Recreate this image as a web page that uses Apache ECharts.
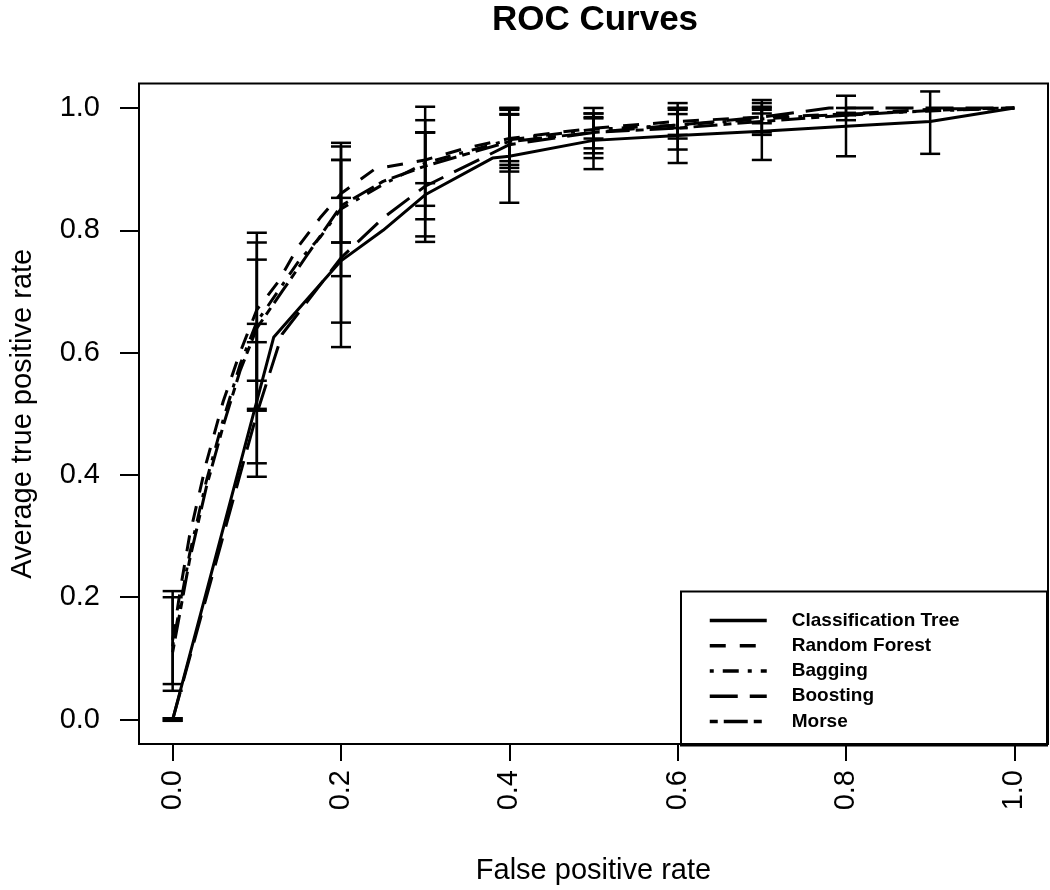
<!DOCTYPE html>
<html>
<head>
<meta charset="utf-8">
<script src="https://cdn.jsdelivr.net/npm/echarts@6/dist/echarts.min.js"></script>
<style>html,body{margin:0;padding:0;background:#fff}#c{width:1050px;height:890px}</style>
</head>
<body>
<div id="c"></div>
<script>
// ---- data ----
const seriesNames = ['Classification Tree', 'Random Forest', 'Bagging', 'Boosting', 'Morse'];
const xTicks = [0, 0.2, 0.4, 0.6, 0.8, 1.0];
const yTicks = [0, 0.2, 0.4, 0.6, 0.8, 1.0];

// curve points [fpr, tpr]
const ctCurve = [[0,0],[0.12,0.625],[0.2,0.75],[0.25,0.80],[0.3,0.858],[0.38,0.918],[0.4,0.921],[0.5,0.947],[0.6,0.955],[0.7,0.962],[0.8,0.97],[0.9,0.978],[1,1]];
const rfCurve = [[0,0.13],[0.01,0.22],[0.02,0.3],[0.04,0.42],[0.06,0.52],[0.08,0.6],[0.1,0.67],[0.125,0.715],[0.15,0.775],[0.175,0.82],[0.2,0.86],[0.24,0.9],[0.3,0.915],[0.35,0.935],[0.4,0.95],[0.5,0.967],[0.6,0.978],[0.7,0.985],[0.8,0.99],[0.9,0.998],[1,1]];
const bagCurve = [[0,0.12],[0.02,0.27],[0.04,0.39],[0.06,0.49],[0.08,0.58],[0.1,0.65],[0.13,0.71],[0.15,0.75],[0.176,0.79],[0.2,0.835],[0.25,0.875],[0.3,0.91],[0.4,0.948],[0.5,0.965],[0.6,0.972],[0.7,0.982],[0.8,0.99],[0.9,0.995],[1,1]];
const boostCurve = [[0,0],[0.1,0.5],[0.13,0.63],[0.2,0.755],[0.25,0.82],[0.3,0.872],[0.4,0.94],[0.5,0.96],[0.6,0.972],[0.7,0.985],[0.78,1.0],[1,1]];
const morseCurve = [[0,0.11],[0.02,0.26],[0.04,0.38],[0.06,0.48],[0.08,0.57],[0.1,0.64],[0.13,0.7],[0.16,0.76],[0.2,0.84],[0.25,0.88],[0.3,0.905],[0.4,0.945],[0.5,0.96],[0.6,0.967],[0.7,0.978],[0.8,0.988],[0.9,0.996],[1,1]];

// error bars [fpr, low, high]
const ctErr = [[0,0,0],[0.1,0.397,0.617],[0.2,0.649,0.853],[0.3,0.781,0.96],[0.4,0.845,0.99],[0.5,0.90,0.991],[0.6,0.91,1.0],[0.7,0.915,1.008],[0.8,0.921,1.02],[0.9,0.925,1.027]];
const rfErr = [[0,0.047,0.21],[0.1,0.508,0.796],[0.2,0.78,0.943],[0.3,0.818,1.002],[0.4,0.902,1.0],[0.5,0.926,1.0],[0.6,0.932,1.008],[0.7,0.956,1.013],[0.8,0.98,1.0]];
const bagErr = [[0,0.058,0.2],[0.1,0.505,0.78],[0.2,0.725,0.937],[0.3,0.877,0.98],[0.4,0.907,0.997],[0.5,0.918,0.983],[0.6,0.967,0.997],[0.7,0.991,1.002]];
const boostErr = [[0,0,0],[0.1,0.419,0.647],[0.2,0.609,0.915],[0.3,0.79,0.96],[0.4,0.896,1.0],[0.5,0.934,0.991],[0.6,0.956,1.0],[0.7,0.975,1.0]];
const morseErr = [[0.1,0.554,0.752],[0.2,0.78,0.915],[0.3,0.84,0.96],[0.4,0.913,0.989],[0.5,0.95,0.985],[0.6,0.95,0.99],[0.7,0.96,0.997],[0.8,0.99,0.99]];

const curves = [ctCurve, rfCurve, bagCurve, boostCurve, morseCurve];
const errs = [ctErr, rfErr, bagErr, boostErr, morseErr];
const dashes = ['solid', [16, 14], [4, 9, 16, 9], [28, 12], [8, 6, 24, 6]];

const FONT = 'Liberation Sans, Arial, Helvetica, sans-serif';

function errRender(params, api) {
  const x = api.value(0), lo = api.value(1), hi = api.value(2);
  const pLo = api.coord([x, lo]);
  const pHi = api.coord([x, hi]);
  const hw = 10;
  const st = { stroke: '#000', lineWidth: 2.5 };
  if (Math.abs(hi - lo) < 1e-9) {
    return { type: 'line', shape: { x1: pLo[0]-hw, y1: pLo[1], x2: pLo[0]+hw, y2: pLo[1] }, style: { stroke: '#000', lineWidth: 5 } };
  }
  return { type: 'group', children: [
    { type: 'line', shape: { x1: pLo[0], y1: pLo[1], x2: pHi[0], y2: pHi[1] }, style: st },
    { type: 'line', shape: { x1: pLo[0]-hw, y1: pLo[1], x2: pLo[0]+hw, y2: pLo[1] }, style: st },
    { type: 'line', shape: { x1: pHi[0]-hw, y1: pHi[1], x2: pHi[0]+hw, y2: pHi[1] }, style: st }
  ]};
}

const series = [];
seriesNames.forEach((n, i) => {
  series.push({
    name: n, type: 'line', data: curves[i], symbol: 'none', showSymbol: false,
    lineStyle: { color: '#000', width: 3, type: dashes[i] }, itemStyle: { color: '#000' },
    animation: false, z: 3
  });
  series.push({
    name: n + ' err', type: 'custom', data: errs[i], renderItem: errRender,
    encode: { x: 0, y: [1, 2] }, animation: false, z: 2, silent: true
  });
});

const chart = echarts.init(document.getElementById('c'), null, { renderer: 'canvas' });
chart.setOption({
  backgroundColor: '#fff',
  animation: false,
  title: {
    text: 'ROC Curves', left: 590, top: -2, textAlign: 'center',
    textStyle: { fontFamily: FONT, fontSize: 35, fontWeight: 'bold', color: '#000' }
  },
  grid: { left: 138, right: 2, top: 83.5, bottom: 143.5, show: true, borderColor: '#000', borderWidth: 2, backgroundColor: 'transparent' },
  xAxis: {
    type: 'value', min: -0.04, max: 1.04,
    name: 'False positive rate', nameLocation: 'middle', nameGap: 112,
    nameTextStyle: { fontFamily: FONT, fontSize: 29, color: '#000' },
    axisLine: { show: false, onZero: false },
    axisTick: { show: true, length: 17, lineStyle: { color: '#000', width: 2 }, customValues: xTicks },
    axisLabel: { rotate: 90, margin: 26, fontFamily: FONT, fontSize: 29, color: '#000', customValues: xTicks, formatter: v => v.toFixed(1) },
    splitLine: { show: false }
  },
  yAxis: {
    type: 'value', min: -0.04, max: 1.04,
    name: 'Average true positive rate', nameLocation: 'middle', nameGap: 102,
    nameTextStyle: { fontFamily: FONT, fontSize: 29, color: '#000' },
    axisLine: { show: false, onZero: false },
    axisTick: { show: true, length: 19, lineStyle: { color: '#000', width: 2 }, customValues: yTicks },
    axisLabel: { margin: 39, fontFamily: FONT, fontSize: 29, color: '#000', customValues: yTicks, formatter: v => v.toFixed(1) },
    splitLine: { show: false }
  },
  legend: {
    data: seriesNames, orient: 'vertical', left: 708, top: 611,
    itemWidth: 57, itemHeight: 14, itemGap: 6.25, padding: 0,
    itemStyle: { color: 'transparent', borderWidth: 0, opacity: 0 },
    lineStyle: { width: 3.5 },
    textStyle: { fontFamily: FONT, fontSize: 19, fontWeight: 'bold', color: '#000', lineHeight: 19, padding: [0, 0, 0, 20] },
    selectedMode: false
  },
  graphic: [{
    type: 'rect', right: 2, bottom: 143.5, z: 10, silent: true,
    shape: { width: 366, height: 154 },
    style: { fill: 'transparent', stroke: '#000', lineWidth: 2 }
  }],
  series: series
});
</script>
</body>
</html>
